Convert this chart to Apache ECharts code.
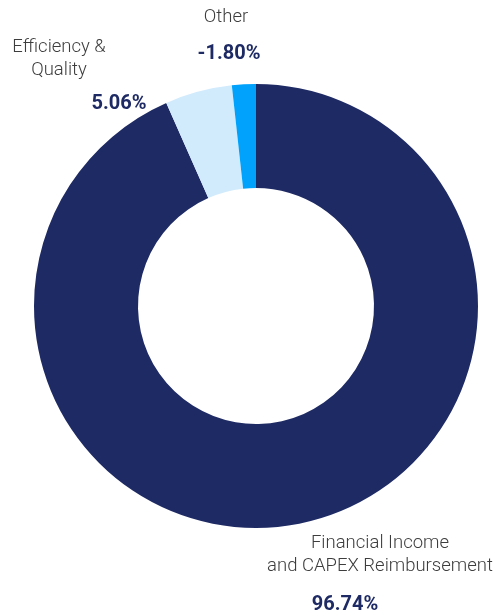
<!DOCTYPE html>
<html><head><meta charset="utf-8">
<script src="https://cdn.jsdelivr.net/npm/echarts@6/dist/echarts.min.js"></script>
<style>html,body{margin:0;padding:0;background:#fff}#c{width:496px;height:613px}</style>
</head><body><div id="c"></div>
<script>
const categories = ['Financial Income\nand CAPEX Reimbursement', 'Efficiency &\nQuality', 'Other'];
const values = [96.74, 5.06, -1.80];
const colors = ['#1e2a64', '#d2ebfc', '#00a2fb'];
// label anchor positions (pixels)
const namePos = [[380, 555], [59, 59], [226, 17]];
const valuePos = [[345, 605], [119, 104], [229, 54]];

const chart = echarts.init(document.getElementById('c'));
const pieData = categories.map((c, i) => ({ name: c, value: Math.abs(values[i]), signed: values[i], itemStyle: { color: colors[i] } }));
const base = {
  type: 'pie', center: [256, 306], radius: [118, 222], startAngle: 90, clockwise: true,
  avoidLabelOverlap: false, labelLine: { show: false }, emphasis: { disabled: true }, animation: false
};
chart.setOption({
  animation: false,
  series: [
    Object.assign({}, base, {
      data: pieData,
      label: { show: true, position: 'outside', formatter: '{b}', fontFamily: 'Roboto', fontWeight: 300, fontSize: 18.5, lineHeight: 23, color: '#3d3d3d', align: 'center' },
      labelLayout: p => ({ x: namePos[p.dataIndex][0], y: namePos[p.dataIndex][1], align: 'center', verticalAlign: 'middle' })
    }),
    Object.assign({}, base, {
      silent: true,
      data: pieData.map(d => ({ name: d.name, value: d.value, signed: d.signed, itemStyle: { color: 'rgba(0,0,0,0)' } })),
      label: { show: true, position: 'outside', formatter: p => values[p.dataIndex].toFixed(2) + '%', fontFamily: 'Roboto', fontWeight: 'bold', fontSize: 20, color: '#1e2a64' },
      labelLayout: p => ({ x: valuePos[p.dataIndex][0], y: valuePos[p.dataIndex][1], align: 'center', verticalAlign: 'middle' })
    })
  ]
});
</script></body></html>
